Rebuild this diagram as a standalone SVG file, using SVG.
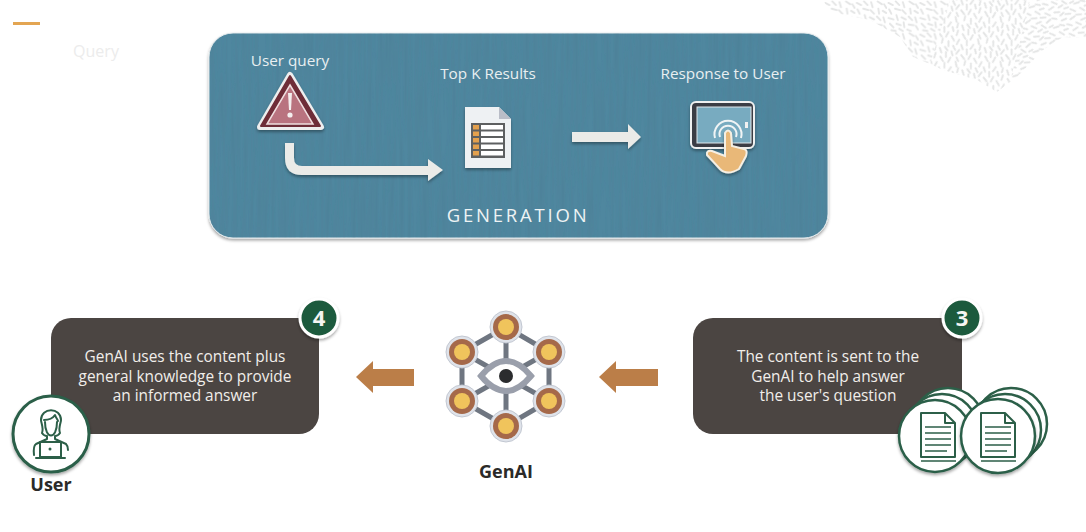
<svg xmlns="http://www.w3.org/2000/svg" width="1086" height="532" viewBox="0 0 1086 532">
<style>
text{font-family:"Open Sans","Noto Sans","Liberation Sans",sans-serif}
.lt{fill:#e9eff1;font-size:15.300px;text-anchor:middle}
.bt{fill:#f1eeea;font-size:15.400px;text-anchor:middle}
.lb{fill:#2b2a28;font-size:18px;font-weight:700;text-anchor:middle}
.bn{fill:#f5f5f2;font-size:22px;font-weight:700;text-anchor:middle}
.badge{fill:#1f5a3c;stroke:#fff;stroke-width:3;filter:url(#sh)}
.rc{fill:#fff;stroke:#2c5f48;stroke-width:2.5}
.ol{fill:none;stroke:#2c5f48;stroke-width:2;stroke-linecap:round;stroke-linejoin:round}
.link{stroke:#6f7681;stroke-width:5}
.nd0{fill:#dfe3ea;stroke:#c3c8d2;stroke-width:1}
.nd1{fill:#a5694a}
.nd2{fill:#f0c45c}
.or{fill:#bb7e48}
.wh{fill:#ebebe8}
.dl{stroke:#2c5f48;stroke-width:1.7}
</style>
<defs>
<filter id="sh" x="-30%" y="-30%" width="160%" height="170%"><feDropShadow dx="0" dy="2" stdDeviation="1.6" flood-color="#000" flood-opacity=".35"/></filter>
<filter id="wood" x="0" y="0" width="100%" height="100%"><feTurbulence type="fractalNoise" baseFrequency="0.25 0.012" numOctaves="2" seed="4"/><feColorMatrix values="0 0 0 0 0.05 0 0 0 0 0.1 0 0 0 0 0.15 0.2 0 0 0 -0.06"/><feComposite in2="SourceGraphic" operator="in"/></filter>
<g id="ricedash" stroke="#e4e5e5" stroke-width="2.600" stroke-linecap="round">
<path d="M2 4l6 3M12 2l5 5M22 3l2 7M31 2l6 4M40 6l3 5M3 13l3 6M11 12l7 2M21 14l5 5M32 12l1 7M38 15l5 3M2 25l7 2M13 21l2 7M20 24l6 3M30 23l5 5M39 24l2 7M4 33l5 5M13 33l6 2M23 31l1 7M30 34l7 1M40 36l3 5M6 42l6 1M17 40l5 3M28 41l5 2"/>
</g>
<pattern id="rice" width="44" height="44" patternUnits="userSpaceOnUse" patternTransform="scale(.72)"><use href="#ricedash"/></pattern>
<pattern id="rice2" width="44" height="44" patternUnits="userSpaceOnUse" patternTransform="rotate(45) scale(.72)"><use href="#ricedash"/></pattern>
<pattern id="rice3" width="44" height="44" patternUnits="userSpaceOnUse" patternTransform="rotate(-50) scale(.72)"><use href="#ricedash"/></pattern>
<g id="doc"><path class="ol" d="M0 0H24L34 10V44H0Z M24 0V10H34"/><path class="dl" d="M4 14H30M4 20H30M4 26H30M4 32H30M4 38H26M0 48H35"/></g>
<g id="node"><circle class="nd0" r="16"/><circle class="nd1" r="13"/><circle class="nd2" r="8"/></g>
</defs>
<rect width="1086" height="532" fill="#fff"/>
<path d="M823 0L830 12L870 20L900 37L913 57L930 64L950 0Z" fill="url(#rice)"/>
<path d="M950 0L930 64L943 70L977 80L997 92L1010 82L1030 0Z" fill="url(#rice2)"/>
<path d="M1030 0L1010 82L1017 77L1043 50L1063 37L1086 38V0Z" fill="url(#rice3)"/>
<rect x="13" y="22" width="27" height="3" fill="#e3a552"/>
<text x="96" y="57" font-size="16" fill="#ececec" text-anchor="middle">Query</text>

<g id="generation-panel">
<rect x="209" y="33" width="619" height="205" rx="24" fill="#4f879f" stroke="#e8eef0" stroke-width="1" filter="url(#sh)"/>
<rect x="209" y="33" width="619" height="205" rx="24" fill="#000" filter="url(#wood)"/>
<text x="518" y="222" fill="#eef3f4" font-size="18.500" letter-spacing="2.800" text-anchor="middle">GENERATION</text>
</g>
<g id="user-query">
<text class="lt" x="290" y="66">User query</text>
<path d="M290 75L321 127H260Z" fill="#6e2d38" stroke="#eee" stroke-width="6" stroke-linejoin="round" filter="url(#sh)"/>
<path d="M290 76L320 126H261Z" fill="#6e2d38" stroke="#6e2d38" stroke-width="2" stroke-linejoin="round"/>
<path d="M290 85L313 124H267Z" fill="#b9737f" stroke="#f0dfe0" stroke-width="1.500"/>
<path d="M288 93H292L291 110H289Z" fill="#f4eeee"/><circle cx="290" cy="115" r="2.600" fill="#f4eeee"/>
</g>
<g id="top-k-results">
<text class="lt" x="488" y="79">Top K Results</text>
<path d="M465 107H499L511 119V168H465Z" fill="#eef1f3" filter="url(#sh)"/>
<path d="M499 107L511 119H499Z" fill="#b9bdc7"/>
<rect x="471" y="123" width="34" height="35" fill="#5d5f60"/>
<g fill="#e3a04d"><rect x="473" y="125" width="6" height="4.500"/><rect x="473" y="131.500" width="6" height="4.500"/><rect x="473" y="138" width="6" height="4.500"/><rect x="473" y="144.500" width="6" height="4.500"/><rect x="473" y="151" width="6" height="4.500"/></g>
<g fill="#fff"><rect x="481" y="125" width="22" height="4.500"/><rect x="481" y="131.500" width="22" height="4.500"/><rect x="481" y="138" width="22" height="4.500"/><rect x="481" y="144.500" width="22" height="4.500"/><rect x="481" y="151" width="22" height="4.500"/></g>
</g>
<g id="response-to-user">
<text class="lt" x="723" y="79">Response to User</text>
<rect x="691" y="102" width="63" height="46" rx="5" fill="#3b3c44" stroke="#eef0f0" stroke-width="2" filter="url(#sh)"/>
<rect x="697" y="107" width="54" height="36" fill="#78abc0" stroke="#dfe8ec" stroke-width="1"/>
<rect x="745" y="122" width="3" height="6" fill="#f1f1f1"/>
<path d="M715 138A13.500 13.500 0 1 1 741 138M720 137A8.500 8.500 0 1 1 736 137" fill="none" stroke="#f0f4f5" stroke-width="2"/>
<path d="M725 133Q728 128 731 133L732 146L744 149Q748 150 746 156L739 169Q727 176 720 169L707 155Q706 150 712 151L725 156Z" fill="#e9b878" stroke="#f5efe3" stroke-width="2" filter="url(#sh)"/>
</g>
<g id="connectors">
<path class="wh" d="M285 143H294V158Q294 166 302 166H428V159L443 170L428 181V175H302Q285 175 285 158Z" filter="url(#sh)"/>
<path class="wh" d="M572 132H628V124L641 137L628 149V142H572Z" filter="url(#sh)"/>
<path class="or" d="M356 377L373 361V369H414V386H373V393Z"/>
<path class="or" d="M599 377L616 361V369H658V386H616V393Z"/>
</g>
<g id="step-4">
<rect x="51" y="318" width="268" height="116" rx="20" fill="#4b4542"/>
<text class="bt" x="185" y="362">GenAI uses the content plus</text>
<text class="bt" x="185" y="382">general knowledge to provide</text>
<text class="bt" x="185" y="401">an informed answer</text>
<circle class="badge" cx="319" cy="318" r="19"/>
<text class="bn" x="319" y="326">4</text>
</g>
<g id="step-3">
<rect x="693" y="318" width="269" height="116" rx="20" fill="#4b4542"/>
<text class="bt" x="828" y="362">The content is sent to the</text>
<text class="bt" x="828" y="382">GenAI to help answer</text>
<text class="bt" x="828" y="401">the user's question</text>
<circle class="badge" cx="962" cy="318" r="19"/>
<text class="bn" x="962" y="326">3</text>
</g>
<g id="user">
<circle cx="51" cy="434" r="38" fill="#fff" stroke="#2c5f48" stroke-width="3" filter="url(#sh)"/>
<path class="ol" d="M42 433C44 428 41 423 41 420C41 407 61 407 61 420C61 423 58 428 60 433C58 436 56 436 55 436M47 436C46 436 44 436 42 433M44 420C49 420 53 418 55 415C56 418 58 420 58 421M45 422C45 440 57 440 57 422M47 436V439L36 444Q33 446 34 455M55 436V439L66 444Q68 446 68 450"/>
<path class="ol" d="M40 442H61V457H40ZM36 458H65"/>
<circle cx="50" cy="449" r="1.500" fill="#2c5f48"/>
<text class="lb" x="51" y="491">User</text>
</g>
<g id="genai">
<path class="link" fill="none" d="M506 327L549 352V401L506 426L462 401V352ZM506 327V426M462 352L549 401M549 352L462 401"/>
<path d="M481 376Q506 346 531 376Q506 406 481 376Z" fill="#fff" stroke="#9a9fab" stroke-width="6"/>
<circle cx="506" cy="376" r="7" fill="#2b2c2e"/>
<use href="#node" x="506" y="327"/><use href="#node" x="462" y="352"/><use href="#node" x="549" y="352"/><use href="#node" x="462" y="401"/><use href="#node" x="549" y="401"/><use href="#node" x="506" y="426"/>
<text class="lb" x="506" y="478">GenAI</text>
</g>
<g id="documents">
<circle class="rc" cx="948" cy="424" r="36"/><circle class="rc" cx="942" cy="430" r="36"/>
<circle class="rc" cx="1011" cy="424" r="36"/><circle class="rc" cx="1005" cy="430" r="36"/>
<circle class="rc" cx="935" cy="436" r="36" filter="url(#sh)"/><use href="#doc" x="921" y="413"/>
<circle class="rc" cx="998" cy="436" r="37" filter="url(#sh)"/><use href="#doc" x="981" y="413"/>
</g>
</svg>
